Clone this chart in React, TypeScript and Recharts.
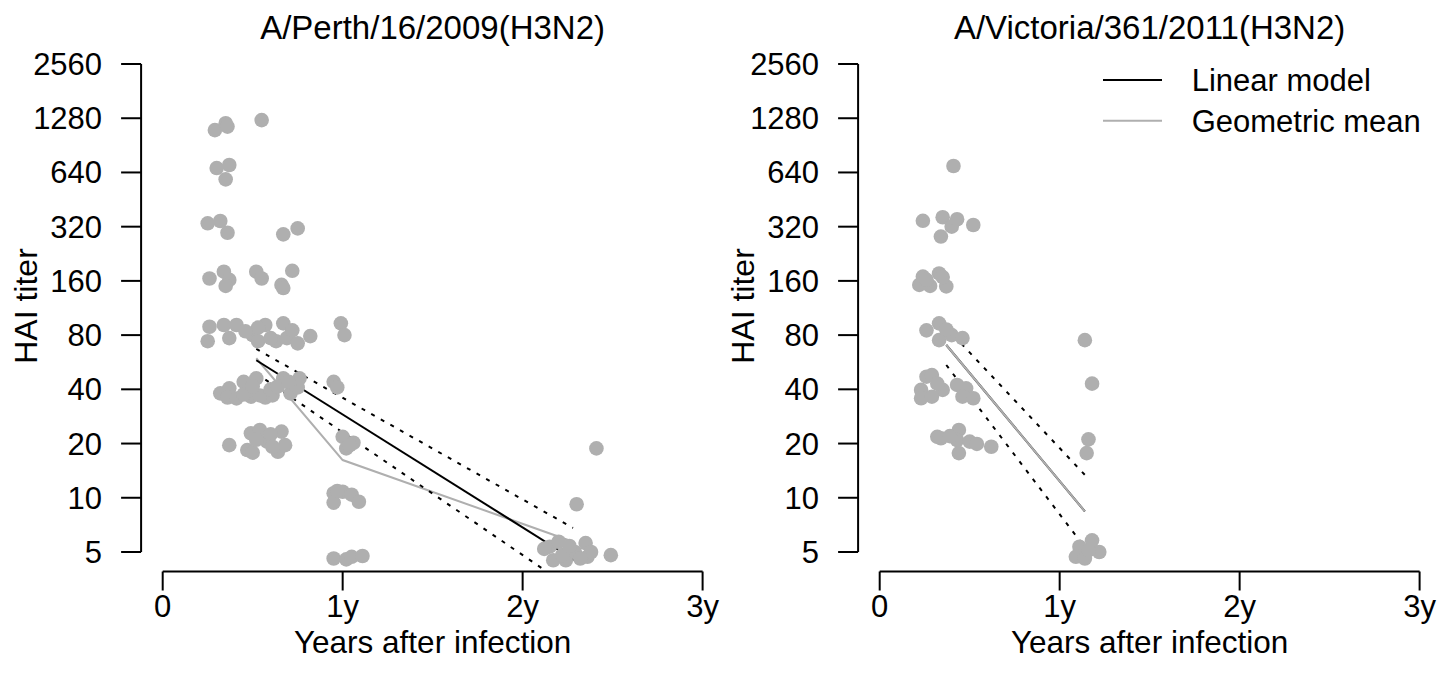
import React from 'react';
import {
    ComposedChart, Scatter, Line, XAxis, YAxis, ReferenceLine,
} from 'recharts';

// titers on a log2 axis, x in years after infection
const yTicks = [5, 10, 20, 40, 80, 160, 320, 640, 1280, 2560];
const xTicks = [0, 1, 2, 3];

const perthPoints = [
    [0.29, 1100], [0.35, 1200], [0.36, 1150], [0.55, 1250],
    [0.30, 677], [0.37, 704], [0.35, 586],
    [0.25, 334], [0.32, 344], [0.36, 296], [0.67, 290], [0.75, 313],
    [0.26, 165], [0.34, 180], [0.37, 162], [0.35, 150], [0.52, 180], [0.55, 165],
    [0.66, 152], [0.67, 146], [0.72, 182],
    [0.26, 89], [0.25, 74], [0.34, 91], [0.41, 91], [0.37, 77], [0.50, 80], [0.57, 91],
    [0.67, 93], [0.53, 74], [0.63, 74], [0.69, 77], [0.75, 72], [0.82, 79], [0.99, 93],
    [1.01, 80], [0.53, 88], [0.60, 77], [0.72, 85], [0.46, 84],
    [0.32, 38], [0.37, 40.5], [0.36, 36], [0.45, 44], [0.49, 36.4], [0.52, 46], [0.57, 36],
    [0.61, 37], [0.67, 46], [0.71, 38], [0.75, 41], [0.95, 44], [0.97, 41], [0.41, 35.6],
    [0.54, 37], [0.60, 40], [0.76, 46], [0.45, 37.5], [0.50, 41.5], [0.64, 41.5], [0.70, 44],
    [0.37, 19.6], [0.49, 22.8], [0.47, 18.4], [0.54, 23.8], [0.58, 20.5], [0.66, 23.3],
    [0.64, 18], [0.68, 19.6], [0.50, 17.8], [1.00, 21.8], [1.02, 18.8], [1.06, 20.2],
    [1.04, 19.6], [0.60, 22.5], [0.52, 21], [0.61, 19.2],
    [0.95, 10.6], [1.00, 10.8], [1.05, 10.4], [1.09, 9.5], [0.95, 9.4], [0.97, 10.9],
    [0.95, 4.6], [1.02, 4.55], [1.05, 4.7], [1.11, 4.75],
    [2.15, 5.35], [2.20, 5.7], [2.17, 4.5], [2.24, 4.5], [2.29, 5.0], [2.35, 5.6],
    [2.36, 4.7], [2.38, 5.0], [2.49, 4.8], [2.30, 9.2], [2.41, 18.8], [2.12, 5.2],
    [2.22, 4.8], [2.32, 4.6], [2.26, 5.4],
];
const perthLinear = [[0.52, 58], [2.29, 4.5]];
const perthUpper = [[0.52, 67], [2.28, 6.8]];
const perthLower = [[0.52, 49], [2.29, 3.05]];
const perthGeoMean = [[0.52, 59.5], [1.0, 16.2], [2.28, 5.7]];

const victoriaPoints = [
    [0.41, 695],
    [0.24, 345], [0.35, 361], [0.40, 320], [0.43, 352], [0.52, 327], [0.34, 282],
    [0.24, 169], [0.33, 176], [0.22, 152], [0.37, 149], [0.28, 150], [0.35, 168], [0.26, 162],
    [0.26, 85], [0.33, 93], [0.33, 75], [0.40, 80], [0.46, 77], [0.37, 86],
    [0.26, 47], [0.29, 48], [0.23, 39.7], [0.23, 35.7], [0.35, 39.7], [0.29, 36.4],
    [0.43, 42.3], [0.48, 40.5], [0.46, 36.4], [0.52, 35.7], [0.32, 43],
    [0.34, 21.4], [0.44, 23.8], [0.43, 20.9], [0.44, 17.7], [0.50, 20.5], [0.54, 19.9],
    [0.62, 19.2], [0.32, 21.8], [0.39, 22],
    [1.14, 75], [1.18, 43], [1.16, 21.1], [1.15, 17.7],
    [1.11, 5.35], [1.18, 5.8], [1.22, 5.0], [1.09, 4.7], [1.14, 4.6], [1.16, 5.1],
];
const victoriaLinear = [[0.37, 70.5], [1.14, 8.4]];
const victoriaUpper = [[0.37, 88], [1.14, 13.4]];
const victoriaLower = [[0.37, 54.6], [1.14, 5.3]];
const victoriaGeoMean = [[0.37, 70.5], [1.14, 8.4]];

const FONT = '"Liberation Sans", Arial, Helvetica, sans-serif';
const FS = 31;
const GRAY = '#AFAFAF';
const PANEL_W = 726;
const PANEL_H = 683;
// R pads the axis range by 4% on each side
const X_DOMAIN = [-0.12, 3.12];
const Y_DOMAIN = [5 * Math.pow(2, -0.36), 2560 * Math.pow(2, 0.36)];

const toXY = (rows: number[][]) => rows.map(([x, y]) => ({ x, y }));

const YTitle = () => (
    <text x={37} y={306} transform="rotate(-90 37 306)" textAnchor="middle"
        fill="#000" fontSize={32} fontFamily={FONT}>HAI titer</text>
);
const XTitle = () => (
    <text x={432.6} y={653} textAnchor="middle" fill="#000" fontSize={31.5}
        fontFamily={FONT}>Years after infection</text>
);

const Dot = (p: any) => <circle cx={p.cx} cy={p.cy} r={7.3} fill={GRAY} />;

interface PanelProps {
    points: number[][];
    linear: number[][];
    upper: number[][];
    lower: number[][];
    geo: number[][];
    geoOnTop?: boolean;
}

const Panel = ({ points, linear, upper, lower, geo, geoOnTop }: PanelProps) => {
    const black = <Line key="lm" data={toXY(linear)} dataKey="y" stroke="#000" strokeWidth={2}
        dot={false} isAnimationActive={false} />;
    const gray = <Line key="gm" data={toXY(geo)} dataKey="y" stroke={GRAY} strokeWidth={2}
        dot={false} isAnimationActive={false} />;
    return (
        <ComposedChart width={PANEL_W} height={PANEL_H}
            margin={{ top: 44.5, right: 1.8, bottom: 0, left: 0 }}>
            <XAxis type="number" dataKey="x" domain={X_DOMAIN} ticks={xTicks}
                allowDataOverflow axisLine={false} height={111.5}
                tickFormatter={(v: number) => (v === 0 ? '0' : `${v}y`)}
                tickLine={{ stroke: '#000', strokeWidth: 2 }} tickSize={19} tickMargin={4}
                tick={{ fill: '#000', fontSize: FS, fontFamily: FONT }}
                label={<XTitle />} />
            <YAxis type="number" dataKey="y" scale="log" domain={Y_DOMAIN} ticks={yTicks}
                allowDataOverflow axisLine={false} width={141.1}
                tickLine={{ stroke: '#000', strokeWidth: 2 }} tickSize={20} tickMargin={19}
                tick={{ fill: '#000', fontSize: FS, fontFamily: FONT }}
                label={<YTitle />} />
            <ReferenceLine segment={[{ x: 0, y: Y_DOMAIN[0] }, { x: 3, y: Y_DOMAIN[0] }]}
                stroke="#000" strokeWidth={2} ifOverflow="visible" />
            <ReferenceLine segment={[{ x: X_DOMAIN[0], y: 5 }, { x: X_DOMAIN[0], y: 2560 }]}
                stroke="#000" strokeWidth={2} ifOverflow="visible" />
            <Scatter data={toXY(points)} dataKey="y" shape={Dot} isAnimationActive={false} />
            {geoOnTop ? black : gray}
            {geoOnTop ? gray : black}
            <Line data={toXY(upper)} dataKey="y" stroke="#000" strokeWidth={2}
                strokeDasharray="4 7" dot={false} isAnimationActive={false} />
            <Line data={toXY(lower)} dataKey="y" stroke="#000" strokeWidth={2}
                strokeDasharray="4 7" dot={false} isAnimationActive={false} />
        </ComposedChart>
    );
};

export default function App() {
    return (
        <div style={{ position: 'absolute', left: 0, top: 0, width: 1452, height: 683, background: '#fff' }}>
            <div style={{ position: 'absolute', left: 0, top: 0 }}>
                <Panel points={perthPoints} linear={perthLinear} upper={perthUpper}
                    lower={perthLower} geo={perthGeoMean} />
            </div>
            <div style={{ position: 'absolute', left: 717, top: 0 }}>
                <Panel points={victoriaPoints} linear={victoriaLinear} upper={victoriaUpper}
                    lower={victoriaLower} geo={victoriaGeoMean} geoOnTop />
            </div>
            <svg width={1452} height={160} style={{ position: 'absolute', left: 0, top: 0 }}>
                <g fontFamily={FONT} fontSize={FS} fill="#000">
                    <text x={432.6} y={39} textAnchor="middle" fontSize={33}>A/Perth/16/2009(H3N2)</text>
                    <text x={1149.6} y={39} textAnchor="middle" fontSize={33}>A/Victoria/361/2011(H3N2)</text>
                    <line x1={1103} x2={1162} y1={80} y2={80} stroke="#000" strokeWidth={2} />
                    <line x1={1103} x2={1162} y1={120.7} y2={120.7} stroke={GRAY} strokeWidth={2} />
                    <text x={1191.7} y={91}>Linear model</text>
                    <text x={1191.7} y={131.7}>Geometric mean</text>
                </g>
            </svg>
        </div>
    );
}
